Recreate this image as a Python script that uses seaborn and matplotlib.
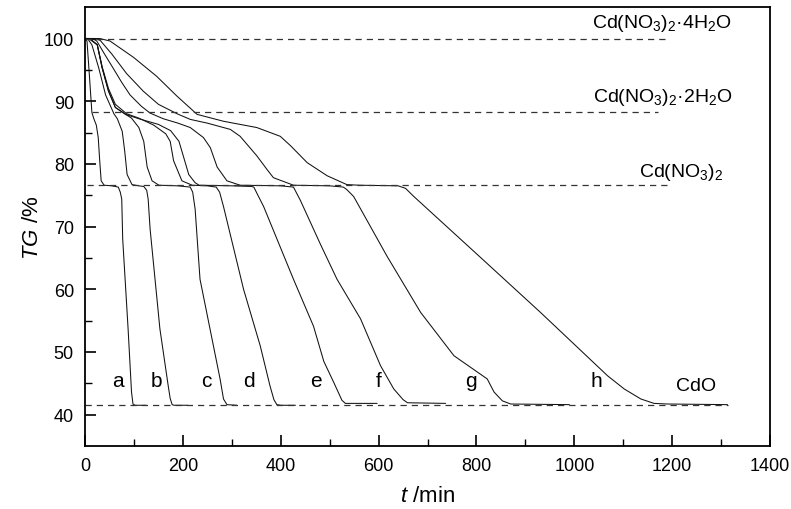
import numpy as np
import pandas as pd
import matplotlib
matplotlib.use("Agg")
import matplotlib.pyplot as plt
import seaborn as sns

# TG curves: time (min) and mass left (%)
t_a = [0, 4, 9, 14, 18, 23, 27, 30, 33, 39, 55, 68, 72, 75, 77, 88, 95, 98, 102, 125]
tg_a = [100, 99.6, 94, 88.2, 87.2, 86.2, 84.2, 80.5, 77.3, 76.6, 76.5, 76.3, 75.5, 74.4, 68, 53.7, 43.6, 41.7, 41.5, 41.5]

t_b = [0, 5, 14, 28, 42, 59, 66, 76, 81, 86, 96, 110, 120, 126, 129, 133, 153, 170, 174, 178, 182, 210]
tg_b = [100, 100, 99, 95.3, 91, 88, 87.2, 85.2, 82.1, 78.3, 76.7, 76.5, 76.4, 75.8, 74.4, 69.6, 53.7, 44.6, 42.6, 41.6, 41.5, 41.5]

t_c = [0, 8, 25, 35, 48, 62, 83, 95, 110, 120, 127, 137, 151, 190, 215, 220, 225, 235, 276, 283, 290, 310]
tg_c = [100, 100, 99, 95.3, 91.6, 89, 87.9, 87.3, 85.8, 83.6, 79.5, 77.3, 76.6, 76.5, 76.3, 75.5, 72.8, 61.6, 45.7, 42.5, 41.6, 41.5]

t_d = [0, 8, 25, 35, 48, 62, 85, 110, 140, 165, 174, 181, 198, 219, 250, 268, 275, 283, 324, 358, 378, 386, 392, 400, 430]
tg_d = [100, 100, 99, 95.5, 92, 89.5, 88, 87.3, 86.2, 84.8, 83.6, 80.5, 77.3, 76.6, 76.5, 76.3, 75.5, 73.2, 60, 51, 44.6, 42.4, 41.6, 41.5, 41.5]

t_e = [0, 10, 25, 35, 48, 62, 83, 110, 150, 175, 192, 212, 225, 233, 300, 340, 345, 352, 365, 426, 467, 488, 508, 525, 532, 597]
tg_e = [100, 100, 99, 95.3, 91.6, 89, 87.9, 87.2, 86.3, 85.3, 83.6, 78.3, 77, 76.6, 76.5, 76.4, 76.3, 75.2, 73.2, 61.6, 54.1, 48.5, 45.2, 42.3, 41.8, 41.8]

t_f = [0, 15, 24, 40, 58, 75, 92, 115, 133, 160, 190, 215, 242, 256, 270, 290, 317, 400, 426, 440, 481, 515, 563, 604, 631, 650, 659, 737]
tg_f = [100, 100, 99.6, 97.5, 95.2, 93, 91, 89.2, 88.1, 87.2, 86.5, 85.8, 84.2, 82.6, 79.5, 77.3, 76.6, 76.5, 76.3, 74.2, 67.2, 61.6, 55.3, 47.8, 44.1, 42.4, 41.9, 41.8]

t_g = [0, 20, 31, 55, 85, 119, 150, 188, 215, 250, 297, 317, 351, 372, 385, 426, 500, 528, 535, 549, 617, 686, 754, 822, 836, 853, 870, 990]
tg_g = [100, 100, 99.7, 97.5, 94.4, 91.6, 89.5, 88, 87.1, 86.5, 85.5, 84.4, 81.3, 79.1, 77.8, 76.6, 76.5, 76.3, 75.9, 74.8, 65.3, 56.3, 49.4, 45.7, 43.6, 42.2, 41.7, 41.6]

t_h = [0, 30, 51, 99, 146, 188, 229, 283, 351, 399, 420, 454, 495, 535, 560, 640, 655, 672, 808, 931, 1068, 1102, 1136, 1163, 1190, 1313]
tg_h = [100, 100, 99.6, 97, 94, 90.8, 87.9, 86.8, 85.8, 84.4, 82.9, 80.2, 78.1, 76.7, 76.6, 76.5, 76.1, 74.8, 65.1, 56.3, 46.2, 44.1, 42.5, 41.8, 41.7, 41.6]

curve_names = ["a", "b", "c", "d", "e", "f", "g", "h"]
curve_t = [t_a, t_b, t_c, t_d, t_e, t_f, t_g, t_h]
curve_tg = [tg_a, tg_b, tg_c, tg_d, tg_e, tg_f, tg_g, tg_h]

# where the curve letters sit (t, TG)
letter_t = [67, 145, 248, 336, 471, 600, 788, 1046]
letter_tg = [44.6, 44.6, 44.6, 44.6, 44.6, 44.6, 44.6, 44.6]

# theoretical plateaus (dashed) and their labels
level_tg = [100, 88.3, 76.6, 41.6]
level_start = [0, 14, 5, 0]
level_end = [1190, 1170, 1190, 1315]
level_text = [r"Cd(NO$_3$)$_2$·4H$_2$O", r"Cd(NO$_3$)$_2$·2H$_2$O", r"Cd(NO$_3$)$_2$", "CdO"]
level_text_t = [1179, 1181, 1218, 1248]
level_text_tg = [102.5, 90.8, 78.8, 44.6]

rows = []
for name, ts, gs in zip(curve_names, curve_t, curve_tg):
    for t, g in zip(ts, gs):
        rows.append((name, t, g))
df = pd.DataFrame(rows, columns=["curve", "t", "TG"])

sns.set_style("ticks")
plt.rcParams["font.family"] = ["Liberation Sans", "DejaVu Sans"]
plt.rcParams["mathtext.fontset"] = "custom"
plt.rcParams["mathtext.rm"] = "Liberation Sans"
plt.rcParams["mathtext.it"] = "Liberation Sans:italic"
plt.rcParams["xtick.direction"] = "in"
plt.rcParams["ytick.direction"] = "in"
for k in ["text.color", "axes.labelcolor", "xtick.color", "ytick.color", "axes.edgecolor"]:
    plt.rcParams[k] = "black"

fig, ax = plt.subplots(figsize=(7.91, 5.10), dpi=100)
fig.subplots_adjust(left=0.1075, right=0.9735, top=0.984, bottom=0.1235)

sns.lineplot(data=df, x="t", y="TG", units="curve", estimator=None, sort=False,
             color="#111111", lw=0.75, ax=ax, legend=False)

for lv, x0, x1 in zip(level_tg, level_start, level_end):
    ax.plot([x0, x1], [lv, lv], color="#333333", lw=0.9, dashes=(5, 4))

for txt, x, y in zip(level_text, level_text_t, level_text_tg):
    ax.text(x, y, txt, ha="center", va="center", fontsize=14)

for name, x, y in zip(curve_names, letter_t, letter_tg):
    ax.text(x, y, name, ha="center", va="baseline", fontsize=15)

ax.set_xlim(0, 1400)
ax.set_ylim(35, 105)
ax.set_xticks(np.arange(0, 1401, 200))
ax.set_xticks(np.arange(100, 1400, 200), minor=True)
ax.set_yticks(np.arange(40, 101, 10))
ax.set_yticks(np.arange(45, 101, 10), minor=True)
ax.tick_params(which="major", length=8, width=1.2, labelsize=13, top=False, right=False)
ax.tick_params(which="minor", length=5, width=1.0, top=False, right=False)
ax.tick_params(axis="x", which="major", pad=8)
ax.tick_params(axis="y", which="major", pad=8)
for s in ax.spines.values():
    s.set_linewidth(1.3)

ax.set_xlabel(r"$\mathit{t}$ /min", fontsize=16, labelpad=8)
ax.set_ylabel(r"$\mathit{TG}$ /%", fontsize=16)
ax.yaxis.set_label_coords(-0.062, 0.5)

fig.savefig("out.png", dpi=100)
